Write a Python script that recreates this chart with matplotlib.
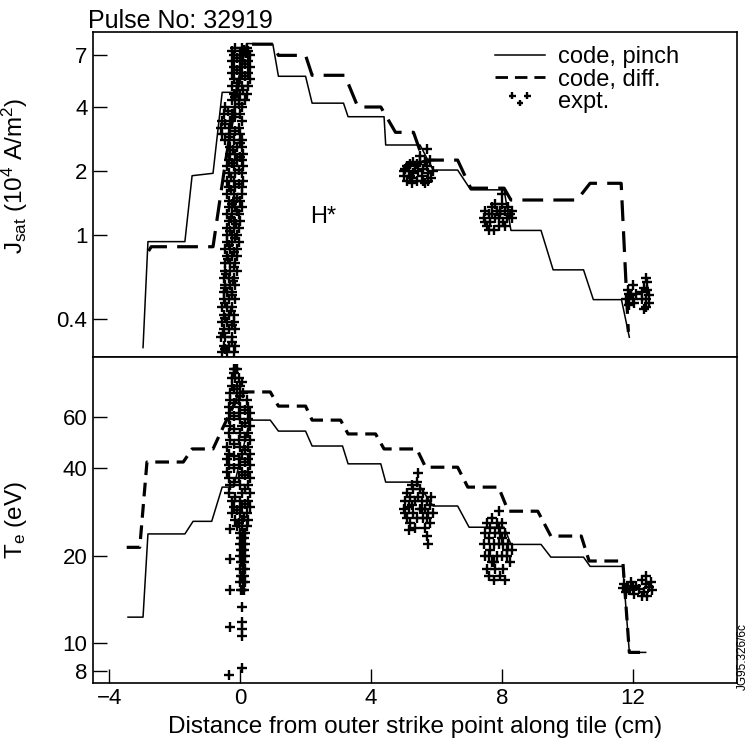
import matplotlib
matplotlib.use('Agg')
import matplotlib.pyplot as plt
from matplotlib.ticker import NullLocator
from matplotlib.lines import Line2D
from matplotlib.legend_handler import HandlerPathCollection

plt.rcParams['font.family'] = ['Liberation Sans', 'DejaVu Sans']
plt.rcParams['mathtext.default'] = 'regular'

###############################################################################
# Data (x in cm from the outer strike point)

# Jsat, code with pinch (step curve vertices)
jsat_pinch_x = [-2.97, -2.82, -1.69, -1.47, -0.83, -0.55, -0.15, 0.2, 1.0, 1.17, 2.0, 2.2,
                3.16, 3.3, 4.4, 4.45, 5.5, 5.9, 6.65, 7.05, 8.07, 8.28, 9.2, 9.57, 10.5,
                10.8, 11.66, 11.9]
jsat_pinch_y = [0.295, 0.93, 0.93, 1.9, 1.95, 4.69, 4.69, 7.96, 7.9, 5.58, 5.58, 4.17,
                4.17, 3.6, 3.6, 2.65, 2.65, 2.02, 2.02, 1.63, 1.63, 1.05, 1.05, 0.685,
                0.685, 0.496, 0.496, 0.33]

# Jsat, code with diffusion
jsat_diff_x = [-2.8, -2.72, -0.83, -0.45, 0.15, 1.0, 1.17, 2.0, 2.2, 3.2, 3.6, 4.3, 4.75,
               5.3, 5.6, 6.65, 7.05, 8.07, 8.28, 10.3, 10.7, 11.65, 11.87]
jsat_diff_y = [0.84, 0.88, 0.88, 2.2, 7.9, 7.9, 7.0, 7.0, 5.64, 5.64, 4.0, 4.0, 3.04,
               3.04, 2.25, 2.25, 1.66, 1.66, 1.46, 1.46, 1.75, 1.75, 0.35]

# Jsat, experiment: band of probe points near the strike point, read level by level
jsat_band_y = [0.28, 0.30, 0.33, 0.36, 0.39, 0.42, 0.46, 0.50, 0.54, 0.58, 0.63, 0.68,
               0.74, 0.80, 0.86, 0.93, 1.0, 1.08, 1.16, 1.25, 1.35, 1.45, 1.56, 1.68,
               1.8, 1.95, 2.1, 2.25, 2.4, 2.6, 2.8, 3.0, 3.2, 3.45, 3.7, 4.0, 4.3, 4.6,
               5.0, 5.4, 5.8, 6.2, 6.6, 7.0, 7.3, 7.6]
jsat_band_left = [-0.55, -0.5, -0.6, -0.5, -0.55, -0.5, -0.55, -0.5, -0.5, -0.45, -0.5,
                  -0.45, -0.45, -0.4, -0.45, -0.4, -0.4, -0.4, -0.35, -0.4, -0.35, -0.35,
                  -0.4, -0.35, -0.4, -0.35, -0.4, -0.35, -0.3, -0.3, -0.45, -0.55, -0.6,
                  -0.55, -0.5, -0.45, -0.25, -0.2, -0.25, -0.2, -0.25, -0.2, -0.25, -0.2,
                  -0.25, -0.15]
jsat_band_mid = [-0.4, -0.35, -0.45, -0.35, -0.4, -0.35, -0.4, -0.35, -0.4, -0.3, -0.35,
                 -0.3, -0.3, -0.25, -0.3, -0.25, -0.25, -0.2, -0.2, -0.25, -0.15, -0.2,
                 -0.2, -0.15, -0.2, -0.15, -0.2, -0.1, -0.15, -0.1, -0.2, -0.3, -0.35,
                 -0.3, -0.25, -0.15, -0.05, 0.0, 0.05, 0.0, 0.05, 0.0, 0.05, 0.0, 0.05, 0.05]
jsat_band_right = [-0.2, -0.15, -0.25, -0.15, -0.2, -0.2, -0.25, -0.15, -0.25, -0.15, -0.2,
                   -0.1, -0.15, -0.1, -0.1, -0.05, -0.1, -0.05, 0.0, -0.05, 0.05, 0.0,
                   0.05, 0.05, 0.1, 0.05, 0.1, 0.05, 0.1, 0.05, 0.05, 0.0, -0.05, 0.05,
                   0.0, 0.05, 0.15, 0.2, 0.25, 0.3, 0.25, 0.3, 0.25, 0.3, 0.25, 0.2]
# points lying between the levels above
jsat_fill_y = [0.29, 0.315, 0.345, 0.375, 0.405, 0.44, 0.48, 0.52, 0.56, 0.605, 0.655,
               0.71, 0.77, 0.83, 0.895, 0.965, 1.04, 1.12, 1.2, 1.3, 1.4, 1.5, 1.62, 1.74,
               1.87, 2.02, 2.17, 2.32, 2.5, 2.7, 2.9, 3.1, 3.32, 3.57, 3.85, 4.15, 4.45,
               4.8, 5.2, 5.6, 6.0, 6.4, 6.8, 7.15, 7.45]
jsat_fill_x = [-0.47, -0.25, -0.52, -0.25, -0.47, -0.28, -0.47, -0.25, -0.45, -0.22,
               -0.42, -0.2, -0.38, -0.18, -0.35, -0.15, -0.3, -0.12, -0.28, -0.1, -0.25,
               -0.1, -0.28, -0.05, -0.28, -0.05, -0.25, 0.0, -0.22, -0.02, -0.35, -0.15,
               -0.45, -0.15, -0.38, -0.05, -0.15, 0.1, -0.1, 0.15, -0.1, 0.15, -0.1, 0.18,
               0.12]

# Jsat, experiment: clusters further along the tile
jsat_clus_x = [5.0, 5.05, 5.1, 5.15, 5.2, 5.25, 5.3, 5.35, 5.4, 5.45, 5.5, 5.55, 5.6, 5.65,
               5.7, 5.75, 5.8, 5.85, 5.5, 5.3, 5.6, 5.7, 5.1, 5.2, 5.4, 5.75, 5.9, 5.0,
               5.25, 5.65,
               7.45, 7.5, 7.55, 7.6, 7.65, 7.7, 7.75, 7.8, 7.85, 7.9, 7.95, 8.0, 8.05, 8.1,
               8.15, 8.2, 8.25, 8.3, 7.6, 7.8, 8.0, 7.5, 7.7, 7.9, 8.1, 8.3, 7.95,
               11.8, 11.85, 11.9, 11.95, 12.0, 12.05, 12.1, 12.3, 12.35, 12.4, 12.45, 12.5,
               12.4, 12.35, 12.5, 12.45, 11.9, 12.0, 12.3, 12.4]
jsat_clus_y = [1.9, 2.05, 1.8, 2.0, 2.15, 1.85, 1.95, 2.1, 1.8, 2.0, 2.2, 1.9, 2.05, 1.75,
               2.1, 1.95, 2.25, 1.85, 2.35, 2.2, 1.8, 2.55, 2.1, 1.9, 2.15, 1.8, 2.0, 2.0,
               1.75, 2.2,
               1.2, 1.3, 1.1, 1.25, 1.15, 1.35, 1.05, 1.2, 1.3, 1.1, 1.25, 1.4, 1.15, 1.3,
               1.2, 1.35, 1.25, 1.3, 1.05, 1.4, 1.55, 1.15, 1.25, 1.2, 1.1, 1.2, 1.3,
               0.5, 0.55, 0.47, 0.52, 0.58, 0.48, 0.53, 0.5, 0.56, 0.46, 0.6, 0.52,
               0.63, 0.45, 0.48, 0.55, 0.53, 0.5, 0.54, 0.5]

# Te, code with pinch
te_pinch_x = [-3.43, -2.97, -2.82, -1.69, -1.44, -0.87, -0.55, -0.2, 0.3, 0.92, 1.17, 2.0,
              2.2, 3.13, 3.3, 4.3, 4.45, 5.4, 5.9, 6.65, 7.0, 8.07, 8.28, 9.2, 9.5, 10.5,
              10.7, 11.7, 11.9, 12.4]
te_pinch_y = [12.3, 12.3, 23.8, 23.8, 26.3, 26.3, 34.5, 34.5, 58.7, 58.7, 53.8, 53.8,
              47.8, 47.8, 41.5, 41.5, 35.9, 35.9, 29.7, 29.7, 25.1, 25.1, 21.9, 21.9, 19.8,
              19.8, 18.4, 18.4, 9.3, 9.3]

# Te, code with diffusion
te_diff_x = [-3.47, -3.07, -2.85, -1.74, -1.47, -0.83, -0.52, 0.0, 0.92, 1.17, 2.0, 2.2,
             3.07, 3.3, 4.14, 4.4, 5.4, 5.67, 6.65, 6.96, 7.9, 8.2, 9.1, 9.5, 10.43, 10.67,
             11.7, 11.9, 12.4]
te_diff_y = [21.4, 21.4, 42.1, 42.1, 46.7, 46.7, 55.5, 73.4, 73.4, 65.6, 65.6, 58.7,
             58.7, 52.6, 52.6, 46.7, 46.7, 40.4, 40.4, 34.5, 34.5, 28.5, 28.5, 23.4, 23.4,
             19.2, 19.2, 9.3, 9.3]

# Te, experiment: band near the strike point
te_band_y = [88, 82, 77, 73, 69, 65, 62, 59, 56, 53, 50, 47.5, 45, 43, 41, 39, 37, 35,
             33, 31, 29.5, 28, 26.5, 25.3, 24, 23, 22, 21, 20, 19, 18, 17, 16.2, 15.2]
te_band_left = [-0.2, -0.25, -0.25, -0.3, -0.3, -0.35, -0.3, -0.35, -0.3, -0.35, -0.3,
                -0.4, -0.35, -0.4, -0.35, -0.4, -0.35, -0.3, -0.35, -0.25, -0.2, -0.25,
                -0.15, -0.1, 0.0, 0.02, 0.0, 0.03, 0.0, 0.02, 0.0, 0.03, 0.0, 0.02]
te_band_mid = [-0.15, -0.15, -0.1, -0.1, -0.05, 0.0, -0.05, 0.0, 0.05, 0.0, -0.05, 0.0,
               0.05, -0.05, 0.0, 0.05, -0.05, 0.0, 0.05, 0.0, 0.05, 0.0, 0.05, 0.05, 0.08,
               0.07, 0.08, 0.07, 0.08, 0.07, 0.08, 0.07, 0.08, 0.07]
te_band_right = [-0.1, -0.05, 0.0, 0.1, 0.2, 0.25, 0.3, 0.25, 0.3, 0.25, 0.3, 0.25, 0.3,
                 0.25, 0.3, 0.25, 0.3, 0.25, 0.3, 0.25, 0.3, 0.2, 0.25, 0.2, 0.15, 0.13,
                 0.15, 0.13, 0.15, 0.13, 0.15, 0.13, 0.15, 0.13]
te_fill_y = [85, 79.5, 75, 71, 67, 63.5, 60.5, 57.5, 54.5, 51.5, 48.7, 46.2, 44, 42, 40,
             38, 36, 34, 32, 30.2, 28.7, 27.2, 25.9]
te_fill_x = [-0.18, 0.05, -0.2, 0.0, -0.2, 0.15, -0.18, 0.15, -0.18, 0.15, -0.2, 0.15,
             -0.2, 0.15, -0.2, 0.15, -0.18, 0.15, -0.15, 0.15, -0.1, 0.12, -0.05]

# Te, experiment: isolated points and clusters further along the tile
te_clus_x = [-0.3, -0.3, -0.3, -0.32, -0.33, 0.05, 0.05, 0.05, 0.05, 0.05,
             5.0, 5.05, 5.1, 5.1, 5.15, 5.2, 5.2, 5.25, 5.3, 5.3, 5.35, 5.4, 5.4, 5.45,
             5.45, 5.5, 5.5, 5.55, 5.6, 5.6, 5.65, 5.65, 5.7, 5.7, 5.75, 5.75, 5.8, 5.8,
             5.85, 5.9, 5.15, 5.35, 5.25, 5.05, 5.55, 5.7,
             7.45, 7.5, 7.5, 7.55, 7.55, 7.6, 7.6, 7.65, 7.65, 7.7, 7.7, 7.75, 7.75, 7.8,
             7.8, 7.85, 7.85, 7.9, 7.9, 7.95, 7.95, 8.0, 8.0, 8.05, 8.05, 8.1, 8.1, 8.15,
             8.2, 8.25, 8.3, 7.6, 7.75, 7.9, 8.0, 8.15,
             11.7, 11.75, 11.8, 11.85, 11.9, 11.95, 12.0, 12.05, 12.1, 12.2, 12.3, 12.35,
             12.4, 12.45, 12.5, 12.55, 12.6, 12.4, 12.3]
te_clus_y = [24.7, 19.5, 15.2, 11.4, 7.8, 13.3, 11.8, 11.2, 10.6, 8.2,
             29, 31, 27, 33, 29.5, 26, 32, 30, 28, 34, 31, 36, 27, 38.5,
             32, 29, 34, 31, 27, 33, 29, 25, 31, 23.5, 28, 22, 30, 26,
             32, 28, 24.5, 25, 35, 28, 29, 27,
             22, 24, 20, 26, 18, 23, 17, 21, 25, 19, 27, 22, 16.5, 24,
             18, 20, 26, 28.5, 22, 17, 24, 20, 26, 22, 18, 24, 16.5, 20,
             22, 19, 21, 20, 19, 25, 23, 21,
             15.5, 16, 15, 15.8, 15.3, 16.2, 15.5, 14.8, 15.8, 15.4, 16.5, 15,
             16, 14.6, 15.6, 16.3, 15.2, 17, 14.5]

jsat_ticks = [0.4, 1, 2, 4, 7]
te_ticks = [8, 10, 20, 40, 60]
x_ticks = [-4, 0, 4, 8, 12]

###############################################################################
# Plot
fig = plt.figure(figsize=(7.5, 7.48), dpi=100)
ax1 = fig.add_axes([0.124, 0.523, 0.859, 0.434])
ax2 = fig.add_axes([0.124, 0.087, 0.859, 0.436], sharex=ax1)

expt_style = dict(marker='+', s=60, c='k', linewidths=1.7)

ax1.plot(jsat_pinch_x, jsat_pinch_y, 'k-', lw=1.1)
ax1.plot(jsat_diff_x, jsat_diff_y, color='k', lw=2.3, dashes=(6.5, 3.2))
sc = ax1.scatter(jsat_band_left + jsat_band_mid + jsat_band_right + jsat_fill_x + jsat_clus_x,
                 jsat_band_y * 3 + jsat_fill_y + jsat_clus_y, **expt_style)

ax2.plot(te_pinch_x, te_pinch_y, 'k-', lw=1.1)
ax2.plot(te_diff_x, te_diff_y, color='k', lw=2.3, dashes=(4.3, 2.4))
ax2.scatter(te_band_left + te_band_mid + te_band_right + te_fill_x + te_clus_x,
            te_band_y * 3 + te_fill_y + te_clus_y, **expt_style)

for ax in (ax1, ax2):
    ax.set_yscale('log')
    ax.yaxis.set_minor_locator(NullLocator())
    ax.xaxis.set_minor_locator(NullLocator())
    ax.tick_params(direction='in', length=10, width=1, labelsize=16, pad=4)
    for s in ax.spines.values():
        s.set_linewidth(1.2)

ax1.set_xlim(-4.5, 15.2)
ax1.set_ylim(0.267, 9.0)
ax1.set_yticks(jsat_ticks)
ax1.set_yticklabels(['0.4', '1', '2', '4', '7'])
ax1.tick_params(axis='x', bottom=False, labelbottom=False)
ax1.set_ylabel(r'J$_{sat}$ (10$^4$ A/m$^2$)', fontsize=17.5)
ax1.yaxis.set_label_coords(-0.098, 0.557)
ax1.text(2.55, 1.21, 'H*', fontsize=17, ha='center', va='center')

ax2.set_ylim(7.3, 97)
ax2.set_yticks(te_ticks)
ax2.set_yticklabels([str(t) for t in te_ticks])
ax2.set_xticks(x_ticks)
ax2.set_xticklabels(['\u22124', '0', '4', '8', '12'])
ax2.set_ylabel(r'T$_e$ (eV)', fontsize=17.5)
ax2.yaxis.set_label_coords(-0.10, 0.5)
ax2.set_xlabel('Distance from outer strike point along tile (cm)', fontsize=17.5, labelpad=5)

handles = [Line2D([], [], color='k', lw=1.1),
           Line2D([], [], color='k', lw=2.0, dashes=(4.5, 2.5)),
           sc]
ax1.legend(handles, ['code, pinch', 'code, diff.', 'expt.'], loc='upper left',
           bbox_to_anchor=(0.624, 0.957), frameon=False, fontsize=17, borderpad=0,
           borderaxespad=0, handlelength=2.1, handletextpad=0.55, labelspacing=0.02,
           handler_map={sc: HandlerPathCollection(numpoints=3, marker_pad=0.73,
                                                  yoffsets=[0.75, 0.3, 0.75],
                                                  sizes=[22, 22, 22])})

fig.text(88 / 750, 1 - 28 / 748, 'Pulse No: 32919', fontsize=18, va='baseline', ha='left')
fig.text(0.999, 0.078, 'JG95.326/6c', fontsize=8.5, rotation=90, ha='right', va='bottom')

plt.savefig('out.png')
